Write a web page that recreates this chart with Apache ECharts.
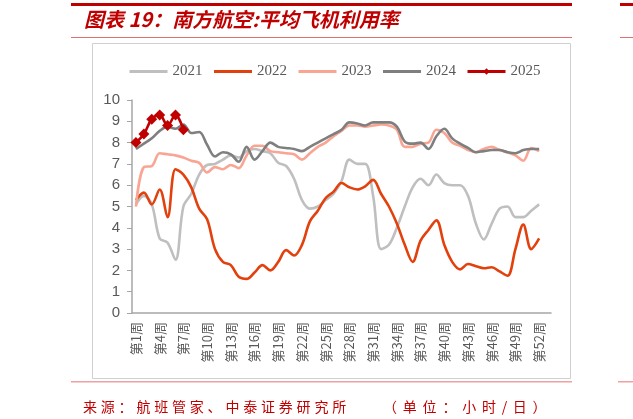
<!DOCTYPE html>
<html>
<head>
<meta charset="utf-8">
<script src="https://cdn.jsdelivr.net/npm/echarts@6/dist/echarts.min.js"></script>
<style>html,body{margin:0;padding:0;background:#fff}#c{width:633px;height:419px}</style>
</head>
<body>
<div id="c"></div>
<script>
const weeks = Array.from({length: 53}, (_, i) => '第' + (i + 1) + '周');
const y2021 = [5.1,5.5,5.1,3.5,3.3,2.5,5.0,5.6,6.5,6.95,7.0,7.2,7.4,7.3,7.6,7.7,7.6,7.5,7.05,6.9,6.3,5.3,4.9,5.0,5.3,5.6,6.2,7.2,7.0,7.0,5.5,3.0,3.2,4.0,5.0,5.9,6.3,6.0,6.5,6.1,6.0,6.0,5.5,4.2,3.45,4.2,4.9,5.0,4.5,4.5,4.8,5.1];
const y2022 = [5.3,5.65,5.1,5.8,4.5,6.75,6.5,5.9,4.9,4.4,3.0,2.4,2.25,1.7,1.6,1.9,2.25,2.0,2.4,2.95,2.7,3.2,4.3,4.8,5.4,5.7,6.1,5.9,5.8,5.95,6.25,5.6,5.0,4.2,3.2,2.4,3.4,3.9,4.35,3.2,2.4,2.05,2.3,2.2,2.1,2.15,1.95,1.75,3.0,4.15,3.0,3.5];
const y2023 = [5.0,6.85,6.9,7.5,7.45,7.4,7.3,7.15,7.05,6.6,6.85,6.75,6.95,6.8,7.4,7.85,7.85,7.6,7.55,7.5,7.45,7.2,7.5,7.8,8.0,8.3,8.55,8.8,8.8,8.75,8.8,8.85,8.8,8.6,7.8,7.8,7.95,8.0,8.6,8.45,8.0,7.85,7.65,7.55,7.7,7.8,7.65,7.55,7.4,7.15,7.75,7.6];
const y2024 = [7.7,7.95,8.2,8.55,8.75,8.65,8.85,8.45,8.5,7.9,7.35,7.55,7.45,7.1,7.8,7.2,7.6,8.0,7.8,7.75,7.7,7.6,7.8,8.0,8.2,8.4,8.6,8.95,8.9,8.8,8.95,8.95,8.95,8.75,8.05,7.95,8.0,7.7,8.3,8.65,8.2,7.95,7.75,7.55,7.6,7.65,7.65,7.55,7.5,7.65,7.7,7.7];
const y2025 = [8.0,8.4,9.1,9.3,8.8,9.3,8.6];
const seriesNames = ['2021','2022','2023','2024','2025'];
const yTicks = {min: 0, max: 10, interval: 1};
const sourceText = '来源：航班管家、中泰证券研究所';
const unitText = '（单位：小时/日）';

const chart = echarts.init(document.getElementById('c'), null, {renderer: 'canvas'});
function line(name, data, color, sym) {
  return {
    name: name, type: 'line', data: data, smooth: 0.35,
    symbol: sym ? 'diamond' : 'none', symbolSize: sym ? 11 : 0, showSymbol: !!sym, showAllSymbol: true,
    lineStyle: {color: color, width: 2.6},
    itemStyle: {color: color},
    emphasis: {disabled: true}, animation: false, z: sym ? 5 : 2
  };
}
function spacedText(str, x0, y, step, font, color) {
  const out = [];
  let x = x0;
  for (const ch of str) {
    out.push({type: 'text', x: x, y: y, style: {text: ch, fill: color, font: font, textBaseline: 'middle'}});
    x += (ch === '/' ? step * 0.55 : step);
  }
  return out;
}
const footFont = '14px "Noto Sans CJK SC", sans-serif';
chart.setOption({
  animation: false,
  backgroundColor: '#fff',
  graphic: [
    {type: 'rect', shape: {x: 71, y: 3, width: 501, height: 3}, style: {fill: '#c00000'}},
    {type: 'rect', shape: {x: 620, y: 3, width: 13, height: 3}, style: {fill: '#c00000'}},
    {type: 'text', left: 84, top: 9, style: {text: '图表 19：南方航空:平均飞机利用率', fill: '#c00000', font: 'italic bold 20px "Noto Sans CJK SC", sans-serif'}},
    {type: 'rect', shape: {x: 71, y: 37, width: 501, height: 1}, style: {fill: '#e07070'}},
    {type: 'rect', shape: {x: 620, y: 37, width: 13, height: 1}, style: {fill: '#e07070'}},
    {type: 'rect', shape: {x: 92.5, y: 43.5, width: 478, height: 335}, style: {fill: 'none', stroke: '#d0d0d0', lineWidth: 1}},
    {type: 'rect', shape: {x: 71, y: 381, width: 501, height: 1.5}, style: {fill: '#f0a0a0'}},
    {type: 'rect', shape: {x: 618, y: 381, width: 15, height: 1.5}, style: {fill: '#f0a0a0'}}
  ].concat(spacedText(sourceText, 83, 400, 17.8, footFont, '#c00000'))
   .concat(spacedText(unitText, 383, 400, 19.8, footFont, '#c00000')),
  legend: {
    data: seriesNames.map(n => n === '2025' ? {name: n} : {name: n, itemStyle: {opacity: 0}}),
    left: 123, top: 59, itemWidth: 38, itemHeight: 8, itemGap: 10,
    lineStyle: {width: 3},
    textStyle: {color: '#595959', fontFamily: 'Liberation Serif', fontSize: 15}
  },
  grid: {left: 132, right: 82, top: 100, bottom: 106, containLabel: false},
  xAxis: {
    type: 'category', data: weeks, boundaryGap: true,
    axisLine: {lineStyle: {color: '#a6a6a6', width: 1.5}},
    axisTick: {interval: 0, length: 5, lineStyle: {color: '#a6a6a6'}},
    axisLabel: {interval: 2, rotate: 90, color: '#595959', fontSize: 13, fontFamily: '"Noto Sans CJK SC", sans-serif', margin: 9}
  },
  yAxis: {
    type: 'value', min: yTicks.min, max: yTicks.max, interval: yTicks.interval,
    splitLine: {show: false},
    axisLine: {show: true, lineStyle: {color: '#a6a6a6', width: 1.5}},
    axisTick: {show: true, length: 5, lineStyle: {color: '#a6a6a6'}},
    axisLabel: {color: '#595959', fontSize: 15, fontFamily: 'Liberation Sans', margin: 12}
  },
  series: [
    line('2021', y2021, '#bfbfbf'),
    line('2022', y2022, '#e2400c'),
    line('2023', y2023, '#f9a594'),
    line('2024', y2024, '#7f7f7f'),
    line('2025', y2025, '#c00000', true)
  ]
});
</script>
</body>
</html>
